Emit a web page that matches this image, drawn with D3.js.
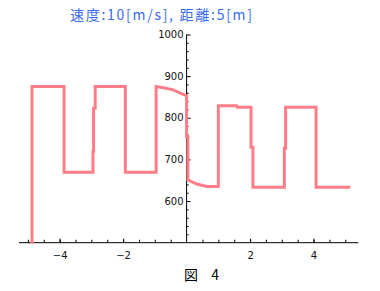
<!DOCTYPE html>
<html><head><meta charset="utf-8">
<script src="https://cdn.jsdelivr.net/npm/d3@7"></script>
<style>body{margin:0;background:#fff}svg{display:block}</style>
</head><body>
<svg id="c" width="380" height="291"></svg>
<script>
const titleText = "速度:10[m/s], 距離:5[m]";
const captionText = "図 4";
const xTickValues = [-4, -2, 2, 4];
const yTickValues = [600, 700, 800, 900, 1000];
const xDomain = [-5.28, 5.41];
const yDomain = [500, 1000];
const curveX = [-4.87, -4.87, -3.86, -3.86, -2.95, -2.95, -2.93, -2.93, -2.88, -2.88, -1.93, -1.93, -0.96, -0.96, -0.73, -0.42, -0.2, 0.0, 0.0, 0.04, 0.04, 0.32, 0.64, 1.0, 1.0, 1.58, 1.6, 2.03, 2.03, 2.09, 2.09, 3.08, 3.08, 3.12, 3.12, 4.08, 4.08, 5.16];
const curveY = [498, 875, 875, 669, 669, 719, 719, 823, 823, 875, 875, 669, 669, 875, 872, 867, 859, 853, 755, 755, 651, 641, 635, 635, 829, 829, 825, 825, 729, 729, 633, 633, 727, 727, 825, 825, 633, 633];

const svg = d3.select("#c");
const x = d3.scaleLinear().domain(xDomain).range([19, 358.3]);
const y = d3.scaleLinear().domain(yDomain).range([242.7, 34.5]);
const x0 = x(0), yb = y(500);

svg.append("line").attr("x1", x.range()[0]).attr("x2", x.range()[1]).attr("y1", yb).attr("y2", yb)
  .attr("stroke", "#000").attr("stroke-width", 1);
svg.append("line").attr("x1", x0).attr("x2", x0).attr("y1", y(1000)).attr("y2", yb)
  .attr("stroke", "#000").attr("stroke-width", 1);

const xMinor = d3.range(-5, 5.01, 0.5).filter(v => v !== 0);
const gxm = svg.append("g").attr("transform", `translate(0,${yb})`)
  .call(d3.axisBottom(x).tickValues(xMinor).tickSizeInner(-3).tickSizeOuter(0).tickFormat(""));
gxm.select(".domain").remove();
const gx = svg.append("g").attr("transform", `translate(0,${yb})`)
  .call(d3.axisBottom(x).tickValues(xTickValues).tickSizeInner(-4).tickSizeOuter(0)
    .tickFormat(d => d < 0 ? "\u2212" + Math.abs(d) : String(d)));
gx.select(".domain").remove();
gx.selectAll("text").attr("y", 9).attr("dy", "0.71em");

const yMinor = d3.range(520, 1000, 20).filter(v => v % 100 !== 0);
const gym = svg.append("g").attr("transform", `translate(${x0},0)`)
  .call(d3.axisLeft(y).tickValues(yMinor).tickSizeInner(-2).tickSizeOuter(0).tickFormat(""));
gym.select(".domain").remove();
const gy = svg.append("g").attr("transform", `translate(${x0},0)`)
  .call(d3.axisLeft(y).tickValues(yTickValues).tickSizeInner(-4).tickSizeOuter(0).tickFormat(d3.format("d")));
gy.select(".domain").remove();
gy.selectAll("text").attr("x", -3);

svg.selectAll(".tick line").attr("stroke", "#000");
svg.selectAll(".tick text").attr("font-family", "DejaVu Sans, sans-serif").attr("font-size", 10).attr("fill", "#111");

const pts = curveX.map((v, i) => [v, curveY[i]]);
svg.append("path").datum(pts)
  .attr("d", d3.line().x(d => x(d[0])).y(d => y(d[1])))
  .attr("fill", "none").attr("stroke", "#ff7d86").attr("stroke-width", 3)
  .attr("stroke-linejoin", "miter");

svg.append("text").attr("x", 70).attr("y", 20)
  .attr("font-family", "Noto Sans CJK JP, sans-serif").attr("font-size", 14).attr("fill", "#3a6cf0")
  .attr("textLength", 182).attr("lengthAdjust", "spacing")
  .text(titleText);
svg.append("text").attr("x", 184).attr("y", 280)
  .attr("font-family", "Noto Sans CJK JP, sans-serif").attr("font-size", 14).attr("fill", "#000")
  .attr("textLength", 35).attr("lengthAdjust", "spacing")
  .text(captionText);
</script>
</body></html>
